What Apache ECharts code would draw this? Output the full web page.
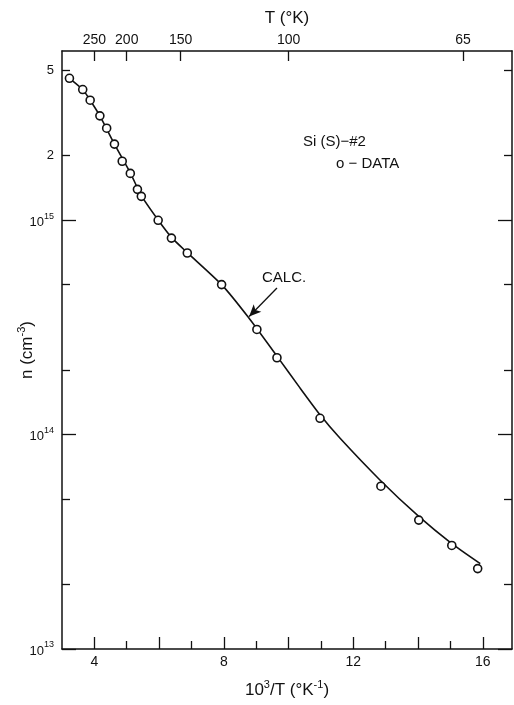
<!DOCTYPE html>
<html>
<head>
<meta charset="utf-8">
<script src="https://cdn.jsdelivr.net/npm/echarts@6/dist/echarts.min.js"></script>
<style>
  html, body { margin: 0; padding: 0; background: #fff; }
  #chart { width: 514px; height: 705px; }
</style>
</head>
<body>
<div id="chart"></div>
<script>
(function() {
	'use strict';

	// 10^3/T and n (cm^-3), measured points
	var dataX = [3.23, 3.64, 3.87, 4.17, 4.38, 4.62, 4.86, 5.11, 5.33, 5.45, 5.97, 6.38, 6.87, 7.93, 9.02, 9.64, 10.97, 12.85, 14.02, 15.04, 15.84];
	var dataN = [4.58e15, 4.06e15, 3.62e15, 3.06e15, 2.68e15, 2.26e15, 1.88e15, 1.65e15, 1.39e15, 1.29e15, 9.97e14, 8.24e14, 7.02e14, 5.0e14, 3.09e14, 2.28e14, 1.19e14, 5.74e13, 3.99e13, 3.04e13, 2.37e13];

	// calculated curve
	var calcX = [3.23, 3.64, 3.87, 4.17, 4.62, 5.11, 5.45, 5.97, 6.38, 6.87, 7.93, 8.75, 9.64, 10.35, 10.97, 11.59, 12.82, 14.02, 15.04, 15.92];
	var calcN = [4.58e15, 4.06e15, 3.62e15, 3.06e15, 2.26e15, 1.66e15, 1.30e15, 1.0e15, 8.3e14, 7.05e14, 5.0e14, 3.53e14, 2.32e14, 1.65e14, 1.236e14, 9.6e13, 6.14e13, 4.15e13, 3.1e13, 2.5e13];

	// axis ticks
	var xLabels = [4, 8, 12, 16];
	var xTicksLong = [4, 6, 8, 10, 12, 14, 16];
	var xTicksShort = [5, 7, 9, 11, 13, 15];
	var tempTicks = [250, 200, 150, 100, 65];
	var yDecades = [13, 14, 15];
	var yMinor = [2e13, 5e13, 2e14, 5e14, 2e15, 5e15];
	var yLabeled = [1e13, 1e14, 1e15, 2e15, 5e15];

	var xMin = 3, xMax = 16.9;
	var nMin = 1e13, nMax = 6.14e15;

	var font = 'Liberation Sans';
	var ink = '#111';

	function lg(v) { return Math.log10(v); }

	var calcData = calcX.map(function(x, i) { return [x, calcN[i]]; });
	var pointData = dataX.map(function(x, i) { return [x, dataN[i]]; });
	var tempPos = tempTicks.map(function(t) { return 1000 / t; });
	var minorPos = yMinor.map(lg);
	var labelPos = yLabeled.map(lg);

	var supRich = {
		b: { fontSize: 13, fontFamily: font, color: ink, verticalAlign: 'bottom' },
		sup: { fontSize: 9, fontFamily: font, color: ink, verticalAlign: 'top', padding: [0, 0, 8, 0] }
	};

	function yLabelFmt(v) {
		var e = Math.floor(v + 1e-6);
		if (Math.abs(v - Math.round(v)) < 1e-6) {
			return '{b|10}{sup|' + Math.round(v) + '}';
		}
		return '{b|' + Math.round(Math.pow(10, v - e)) + '}';
	}

	function tickAxis(pos, ticks, len, showLine, showLabel) {
		return {
			type: 'value', position: pos, gridIndex: 0,
			min: lg(nMin), max: lg(nMax),
			nameMoveOverlap: false,
			axisLine: { show: showLine, lineStyle: { color: ink, width: 1.5 } },
			axisTick: { show: true, inside: true, length: len, customValues: ticks, lineStyle: { color: ink, width: 1.3 } },
			axisLabel: showLabel ? {
				show: true, customValues: labelPos, margin: 8,
				formatter: yLabelFmt, rich: supRich, fontFamily: font, color: ink
			} : { show: false },
			splitLine: { show: false }
		};
	}

	var myChart = echarts.init(document.getElementById('chart'), null, { renderer: 'canvas' });

	var option = {
		animation: false,
		backgroundColor: '#fff',
		grid: { left: 62, right: 2, top: 51, bottom: 56, containLabel: false },
		xAxis: [
			{
				type: 'value', position: 'bottom', min: xMin, max: xMax,
				nameMoveOverlap: false,
				name: '{b|10}{sup|3}{b|/T (°K}{sup|-1}{b|)}',
				nameLocation: 'middle', nameGap: 30,
				nameTextStyle: {
					rich: {
						b: { fontSize: 17, fontFamily: font, color: ink, verticalAlign: 'bottom' },
						sup: { fontSize: 11, fontFamily: font, color: ink, verticalAlign: 'top', padding: [0, 0, 9, 0] }
					}
				},
				axisLine: { show: true, onZero: false, lineStyle: { color: ink, width: 1.5 } },
				axisTick: { show: true, inside: true, length: 8, customValues: xTicksShort, lineStyle: { color: ink, width: 1.3 } },
				axisLabel: { show: true, customValues: xLabels, margin: 6, fontSize: 14, fontFamily: font, color: ink },
				splitLine: { show: false }
			},
			{
				type: 'value', position: 'bottom', min: xMin, max: xMax,
				axisLine: { show: false, onZero: false },
				axisTick: { show: true, inside: true, length: 12, customValues: xTicksLong, lineStyle: { color: ink, width: 1.3 } },
				axisLabel: { show: false },
				splitLine: { show: false }
			},
			{
				type: 'value', position: 'top', min: xMin, max: xMax,
				nameMoveOverlap: false,
				name: 'T (°K)', nameLocation: 'middle', nameGap: 24,
				nameTextStyle: { fontSize: 17, fontFamily: font, color: ink },
				axisLine: { show: true, onZero: false, lineStyle: { color: ink, width: 1.5 } },
				axisTick: { show: true, inside: true, length: 10, customValues: tempPos, lineStyle: { color: ink, width: 1.3 } },
				axisLabel: {
					show: true, customValues: tempPos, margin: 4, fontSize: 14, fontFamily: font, color: ink,
					formatter: function(v) { return String(Math.round(1000 / v)); }
				},
				splitLine: { show: false }
			}
		],
		yAxis: [
			{
				type: 'log', logBase: 10, min: nMin, max: nMax, show: false
			},
			(function() {
				var a = tickAxis('left', yDecades, 14, true, true);
				a.name = '{b|n (cm}{sup|-3}{b|)}';
				a.nameLocation = 'middle';
				a.nameGap = 26;
				a.nameTextStyle = {
					rich: {
						b: { fontSize: 17, fontFamily: font, color: ink, verticalAlign: 'bottom' },
						sup: { fontSize: 11, fontFamily: font, color: ink, verticalAlign: 'top', padding: [0, 0, 9, 0] }
					}
				};
				return a;
			})(),
			tickAxis('left', minorPos, 8, false, false),
			tickAxis('right', yDecades, 14, true, false),
			tickAxis('right', minorPos, 8, false, false)
		],
		series: [
			{
				name: 'CALC.',
				type: 'line',
				xAxisIndex: 0, yAxisIndex: 0,
				data: calcData,
				smooth: 0.2,
				showSymbol: false,
				lineStyle: { color: ink, width: 1.6 },
				markLine: {
					silent: true,
					symbol: ['none', 'arrow'],
					symbolSize: [8, 12],
					label: { show: false },
					lineStyle: { color: ink, width: 1.3, type: 'solid' },
					data: [[{ coord: [9.64, 4.82e14] }, { coord: [8.78, 3.55e14] }]]
				},
				z: 2
			},
			{
				name: 'DATA',
				type: 'scatter',
				xAxisIndex: 0, yAxisIndex: 0,
				data: pointData,
				symbol: 'circle',
				symbolSize: 8,
				itemStyle: { color: '#fff', borderColor: ink, borderWidth: 1.6, opacity: 1 },
				z: 3
			}
		],
		graphic: [
			{ type: 'text', left: 303, top: 134, style: { text: 'Si (S)−#2', font: '15px "Liberation Sans"', fill: ink } },
			{ type: 'text', left: 336, top: 156, style: { text: 'o − DATA', font: '15px "Liberation Sans"', fill: ink } },
			{ type: 'text', left: 262, top: 270, style: { text: 'CALC.', font: '15px "Liberation Sans"', fill: ink } }
		]
	};

	myChart.setOption(option);
})();
</script>
</body>
</html>
